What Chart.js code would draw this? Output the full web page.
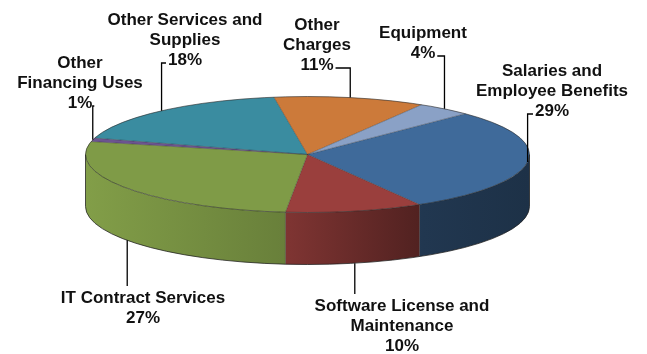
<!DOCTYPE html>
<html lang="en">
  <head>
    <meta charset="UTF-8" />
    <title>Expenditures by Category</title>
    <style>
      html,
      body {
        margin: 0;
        padding: 0;
        background: #fff;
      }
      .chart-box {
        position: relative;
        width: 647px;
        height: 354px;
      }
    </style>
  </head>
  <body>
    <div class="chart-box"><canvas id="chartPie"></canvas></div>
    <script src="https://cdn.jsdelivr.net/npm/chart.js"></script>
    <script>
      const categories = [
        ["Salaries and", "Employee Benefits"],
        ["Software License and", "Maintenance"],
        ["IT Contract Services"],
        ["Other", "Financing Uses"],
        ["Other Services and", "Supplies"],
        ["Other", "Charges"],
        ["Equipment"],
      ];
      const shares = [29, 10, 27, 1, 18, 11, 4];
      const colors = [
        "#3f6a9a",
        "#9a3f3d",
        "#7f9b47",
        "#6c5490",
        "#3a8ca0",
        "#cc7a3a",
        "#8aa1c6",
      ];

      // label blocks: centre x, baseline of the first line
      const labelPos = [
        [552, 76],
        [402, 311],
        [143, 303],
        [80, 68],
        [185, 25],
        [317, 30],
        [423, 38],
      ];

      // the tilted disc on screen
      const disc = { cx: 307.5, cy: 154.5, rx: 222, ry: 58, depth: 52 };
      const labelFont = "bold 17px 'Liberation Sans', Arial, sans-serif";
      const lineGap = 20;

      function shade(hex, f) {
        const n = parseInt(hex.slice(1), 16);
        const c = [(n >> 16) & 255, (n >> 8) & 255, n & 255].map((v) =>
          Math.min(255, Math.round(v * f))
        );
        return "rgb(" + c.join(",") + ")";
      }

      function rim(a, lower) {
        return {
          x: disc.cx + disc.rx * Math.cos(a),
          y: disc.cy + disc.ry * Math.sin(a) + (lower ? disc.depth : 0),
        };
      }

      // front wall of each slice, only the part facing the viewer
      function drawSides(ctx, arcs) {
        const { cx, cy, rx, ry, depth } = disc;
        arcs.forEach((arc, i) => {
          const a1 = Math.max(arc.startAngle, 0);
          const a2 = Math.min(arc.endAngle, Math.PI);
          if (a2 <= a1) return;
          const grad = ctx.createLinearGradient(cx - rx, 0, cx + rx, 0);
          grad.addColorStop(0, shade(colors[i], 1.02));
          grad.addColorStop(0.46, shade(colors[i], 0.82));
          grad.addColorStop(0.76, shade(colors[i], 0.52));
          grad.addColorStop(1, shade(colors[i], 0.46));
          ctx.beginPath();
          ctx.ellipse(cx, cy, rx, ry, 0, a1, a2);
          ctx.ellipse(cx, cy + depth, rx, ry, 0, a2, a1, true);
          ctx.closePath();
          ctx.fillStyle = grad;
          ctx.fill();
        });
      }

      function drawEdges(ctx, arcs) {
        const { cx, cy, rx, ry, depth } = disc;
        ctx.save();
        // slice borders on the top face
        ctx.strokeStyle = "rgba(30,30,30,0.45)";
        ctx.lineWidth = 0.8;
        arcs.forEach((arc) => {
          const p = rim(arc.startAngle, false);
          ctx.beginPath();
          ctx.moveTo(cx, cy);
          ctx.lineTo(p.x, p.y);
          ctx.stroke();
          const s = ((arc.startAngle % (2 * Math.PI)) + 2 * Math.PI) % (2 * Math.PI);
          if (s > 0 && s < Math.PI) {
            const q = rim(s, true);
            ctx.beginPath();
            ctx.moveTo(p.x, p.y);
            ctx.lineTo(q.x, q.y);
            ctx.stroke();
          }
        });
        // outline of top face and bottom rim
        ctx.strokeStyle = "rgba(40,40,40,0.6)";
        ctx.lineWidth = 1;
        ctx.beginPath();
        ctx.ellipse(cx, cy, rx, ry, 0, 0, 2 * Math.PI);
        ctx.stroke();
        ctx.strokeStyle = "rgba(30,30,30,0.75)";
        ctx.beginPath();
        ctx.moveTo(cx - rx, cy);
        ctx.lineTo(cx - rx, cy + depth);
        ctx.ellipse(cx, cy + depth, rx, ry, 0, Math.PI, 0, true);
        ctx.lineTo(cx + rx, cy);
        ctx.stroke();
        ctx.restore();
      }

      function drawLabels(chart, arcs) {
        const ctx = chart.ctx;
        const values = chart.data.datasets[0].data;
        ctx.save();
        ctx.font = labelFont;
        ctx.fillStyle = "#111";
        ctx.textAlign = "center";
        ctx.textBaseline = "alphabetic";
        ctx.strokeStyle = "#000";
        ctx.lineWidth = 1.3;

        arcs.forEach((arc, i) => {
          const lines = chart.data.labels[i].concat([values[i] + "%"]);
          const [lx, ly] = labelPos[i];
          lines.forEach((t, k) => ctx.fillText(t, lx, ly + k * lineGap));

          const mid = (arc.startAngle + arc.endAngle) / 2;
          const below = ly > disc.cy + disc.ry;
          const p = rim(mid, below);

          ctx.beginPath();
          if (below) {
            ctx.moveTo(p.x, p.y);
            ctx.lineTo(p.x, ly - 17);
          } else {
            const lastY = ly + (lines.length - 1) * lineGap;
            const w = ctx.measureText(lines[lines.length - 1]).width;
            const left = lx - w / 2;
            const right = lx + w / 2;
            if (p.x > left + 2 && p.x < right - 2) {
              ctx.moveTo(p.x, lastY + 5);
            } else {
              const ex = p.x <= left + 2 ? left - 2 : right + 2;
              ctx.moveTo(ex, lastY - 2);
              ctx.lineTo(p.x, lastY - 2);
            }
            ctx.lineTo(p.x, p.y);
          }
          ctx.stroke();
        });
        ctx.restore();
      }

      const pie3d = {
        id: "pie3d",
        beforeDatasetsDraw(chart) {
          const ctx = chart.ctx;
          const arcs = chart.getDatasetMeta(0).data;
          drawSides(ctx, arcs);
          const a0 = arcs[0];
          ctx.save();
          ctx.translate(disc.cx, disc.cy);
          ctx.scale(disc.rx / a0.outerRadius, disc.ry / a0.outerRadius);
          ctx.translate(-a0.x, -a0.y);
        },
        afterDatasetsDraw(chart) {
          const ctx = chart.ctx;
          ctx.restore();
          const arcs = chart.getDatasetMeta(0).data;
          drawEdges(ctx, arcs);
          drawLabels(chart, arcs);
        },
      };

      new Chart(document.getElementById("chartPie"), {
        type: "pie",
        data: {
          labels: categories,
          datasets: [
            {
              data: shares,
              backgroundColor: colors,
              borderWidth: 0,
              clip: false,
            },
          ],
        },
        plugins: [pie3d],
        options: {
          responsive: true,
          maintainAspectRatio: false,
          animation: false,
          events: [],
          rotation: 45.3,
          plugins: {
            legend: { display: false },
            tooltip: { enabled: false },
          },
        },
      });
    </script>
  </body>
</html>
